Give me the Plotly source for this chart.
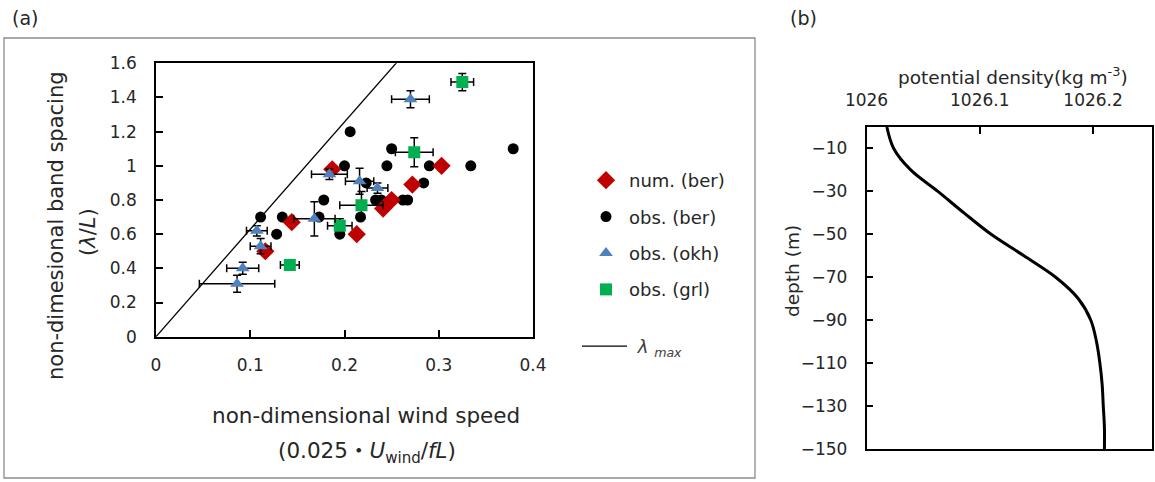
import numpy as np
import plotly.graph_objects as go

W, H = 1155, 482

# ---------------- data: panel (a) ----------------
num_ber_x = [0.116, 0.144, 0.187, 0.213, 0.241, 0.250, 0.272, 0.303]
num_ber_y = [0.50, 0.67, 0.98, 0.60, 0.75, 0.80, 0.89, 1.00]

obs_ber_x = [0.111, 0.128, 0.134, 0.173, 0.178, 0.195, 0.200, 0.206, 0.217, 0.223,
             0.233, 0.239, 0.245, 0.250, 0.262, 0.267, 0.284, 0.290, 0.334, 0.379]
obs_ber_y = [0.70, 0.60, 0.70, 0.70, 0.80, 0.60, 1.00, 1.20, 0.70, 0.90,
             0.80, 0.80, 1.00, 1.10, 0.80, 0.80, 0.90, 1.00, 1.00, 1.10]

obs_okh_x = [0.086, 0.092, 0.107, 0.111, 0.168, 0.184, 0.216, 0.235, 0.270]
obs_okh_y = [0.31, 0.40, 0.62, 0.53, 0.69, 0.95, 0.91, 0.87, 1.39]
obs_okh_ex = [0.040, 0.017, 0.011, 0.011, 0.022, 0.019, 0.015, 0.011, 0.020]
obs_okh_ey = [0.05, 0.035, 0.03, 0.045, 0.10, 0.03, 0.076, 0.03, 0.05]

obs_grl_x = [0.142, 0.195, 0.218, 0.274, 0.325]
obs_grl_y = [0.42, 0.65, 0.77, 1.08, 1.49]
obs_grl_ex = [0.010, 0.013, 0.023, 0.020, 0.012]
obs_grl_ey = [0.03, 0.04, 0.08, 0.085, 0.05]

lam_x = [0.0, 0.4]
lam_slope = 2 * np.pi  # lambda_max = 2*pi * x

a_xticks = [0, 0.1, 0.2, 0.3, 0.4]
a_yticks = [0, 0.2, 0.4, 0.6, 0.8, 1.0, 1.2, 1.4, 1.6]

# ---------------- data: panel (b) ----------------
depth = [0, -10, -20, -30, -40, -50, -60, -70, -80, -90, -100, -110, -120, -130, -140, -150]
density = [1026.018, 1026.024, 1026.039, 1026.063, 1026.086, 1026.110, 1026.139, 1026.167,
           1026.187, 1026.198, 1026.203, 1026.206, 1026.208, 1026.209, 1026.210, 1026.210]
b_xticks = [1026.0, 1026.1, 1026.2]
b_xticklabels = ["1026", "1026.1", "1026.2"]
b_yticks = [-10, -30, -50, -70, -90, -110, -130, -150]

FONT = "DejaVu Sans, Noto Sans CJK JP, sans-serif"
TXT = "#262626"


def fx(p):
    return p / W


def fy(p):
    return 1 - p / H


fig = go.Figure()

fig.add_trace(go.Scatter(
    x=lam_x, y=[lam_slope * v for v in lam_x], mode="lines",
    line=dict(color="black", width=1.3),
    name="&nbsp;<i>λ</i> <sub><i>max</i></sub>",
    legend="legend2", xaxis="x", yaxis="y"))

fig.add_trace(go.Scatter(
    x=obs_ber_x, y=obs_ber_y, mode="markers", name="obs. (ber)",
    marker=dict(symbol="circle", size=11, color="black"),
    legendrank=2, legendgroup="b", xaxis="x", yaxis="y"))

fig.add_trace(go.Scatter(
    x=num_ber_x, y=num_ber_y, mode="markers", name="num. (ber)",
    marker=dict(symbol="diamond", size=14, color="#C00000"),
    legendrank=1, legendgroup="a", xaxis="x", yaxis="y"))

fig.add_trace(go.Scatter(
    x=obs_grl_x, y=obs_grl_y, mode="markers", name="obs. (grl)",
    marker=dict(symbol="square", size=12, color="#00B050"),
    error_x=dict(type="data", array=obs_grl_ex, color="black", thickness=1.5, width=4),
    error_y=dict(type="data", array=obs_grl_ey, color="black", thickness=1.5, width=4),
    legendrank=4, legendgroup="d", xaxis="x", yaxis="y"))

fig.add_trace(go.Scatter(
    x=obs_okh_x, y=obs_okh_y, mode="markers", name="obs. (okh)",
    marker=dict(symbol="triangle-up", size=12, color="#4F81BD"),
    error_x=dict(type="data", array=obs_okh_ex, color="black", thickness=1.5, width=4),
    error_y=dict(type="data", array=obs_okh_ey, color="black", thickness=1.5, width=4),
    legendrank=3, legendgroup="c", xaxis="x", yaxis="y"))

fig.add_trace(go.Scatter(
    x=density, y=depth, mode="lines", line=dict(color="black", width=3, shape="spline"),
    showlegend=False, xaxis="x2", yaxis="y2"))

axis_common = dict(showgrid=False, zeroline=False, showline=True, linecolor="black",
                   linewidth=1.5, mirror=True, ticks="inside", ticklen=7, tickwidth=1.5,
                   tickcolor="black", automargin=False,
                   tickfont=dict(family=FONT, size=17, color=TXT))

fig.update_layout(
    template="none",
    width=W, height=H, margin=dict(l=0, r=0, t=0, b=0, pad=0),
    paper_bgcolor="white", plot_bgcolor="white",
    font=dict(family=FONT, color=TXT),
    xaxis=dict(domain=[fx(156), fx(533)], range=[0, 0.4], tickvals=a_xticks,
               ticklabelstandoff=12, anchor="y", **axis_common),
    yaxis=dict(domain=[fy(336.7), fy(63.3)], range=[0, 1.6], tickvals=a_yticks,
               ticklabelstandoff=14, anchor="x", **axis_common),
    xaxis2=dict(domain=[fx(866.5), fx(1152)], range=[1026.0, 1026.252], side="top",
                anchor="y2", tickvals=b_xticks, ticktext=b_xticklabels,
                ticklabelstandoff=12, **axis_common),
    yaxis2=dict(domain=[fy(449), fy(127)], range=[-150, 0], anchor="x2",
                tickvals=b_yticks, ticklabelstandoff=14, **axis_common),
    legend=dict(x=fx(583), y=fy(162), xanchor="left", yanchor="top",
                font=dict(family=FONT, size=18, color=TXT), tracegroupgap=10,
                bgcolor="rgba(0,0,0,0)", traceorder="grouped", itemwidth=36),
    legend2=dict(x=fx(577), y=fy(328), xanchor="left", yanchor="top",
                 font=dict(family=FONT, size=18, color="#404040"),
                 bgcolor="rgba(0,0,0,0)", itemwidth=45),
    showlegend=True,
)

# outer frame around panel (a)
fig.add_shape(type="rect", xref="paper", yref="paper", x0=fx(4), x1=fx(755),
              y0=fy(478), y1=fy(38), line=dict(color="#8C8C8C", width=1.3))

ann = [
    dict(text="(a)", x=fx(10), y=fy(18), xanchor="left", size=19),
    dict(text="(b)", x=fx(788), y=fy(18), xanchor="left", size=19),
    dict(text="non-dimesional band spacing", x=fx(56), y=fy(226), angle=-90, size=21),
    dict(text="(<i>λ</i>/<i>L</i>)", x=fx(88), y=fy(232), angle=-90, size=21),
    dict(text="non-dimensional wind speed", x=fx(366), y=fy(415), size=21.5),
    dict(text="(0.025・<i>U</i><sub>wind</sub>/<i>fL</i>)", x=fx(367), y=fy(452), size=21.5),
    dict(text="potential density(kg m<sup>-3</sup>)", x=fx(1013), y=fy(76), size=18.5),
    dict(text="depth (m)", x=fx(792), y=fy(271), angle=-90, size=18.5),
]
for a in ann:
    fig.add_annotation(text=a["text"], xref="paper", yref="paper", x=a["x"], y=a["y"],
                       xanchor=a.get("xanchor", "center"), yanchor="middle",
                       textangle=a.get("angle", 0), showarrow=False,
                       font=dict(family=FONT, size=a["size"], color=TXT))

fig.write_html("out.html")
